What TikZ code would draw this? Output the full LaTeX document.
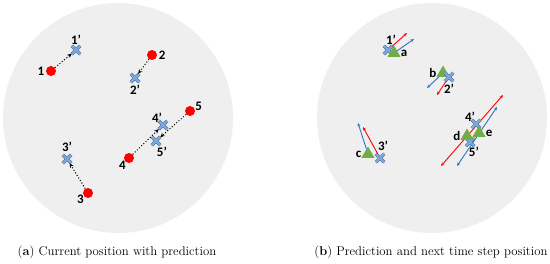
\documentclass[tikz,border=0pt]{standalone}
\usepackage{fontspec}
\setsansfont{Carlito}
\usetikzlibrary{positioning, arrows.meta, shapes.geometric, shapes.misc}
\definecolor{discgray}{HTML}{EFEFEF}
\definecolor{dotred}{HTML}{FF0000}
\definecolor{xfill}{HTML}{7FA6D6}
\definecolor{xedge}{HTML}{41719C}
\definecolor{trigreen}{HTML}{70AD47}
\definecolor{arrred}{HTML}{FF0000}
\definecolor{arrblue}{HTML}{2E75B6}

\begin{document}
\begin{tikzpicture}[
  x=1bp, y=-1bp,
  disc/.style={fill=discgray, draw=none},
  cur/.style={circle, fill=dotred, inner sep=0pt, minimum size=10bp},
  pred/.style={cross out, draw=xedge, double=xfill, double distance=2.2bp,
               line width=0.5bp, inner sep=0pt, minimum size=8bp},
  next/.style={regular polygon, regular polygon sides=3, fill=trigreen,
               inner sep=0pt, minimum size=15bp},
  lab/.style={font=\sffamily\bfseries\fontsize{13}{13}\selectfont, inner sep=0.5bp},
  captxt/.style={font=\fontsize{12.8}{14}\selectfont, inner sep=0pt},
  move/.style={dotted, line width=1bp, -{Stealth[length=4.5bp, width=4bp]}},
  redarr/.style={arrred, line width=0.9bp, -{Stealth[length=3.5bp, width=3bp]}},
  bluarr/.style={arrblue, line width=0.9bp, -{Stealth[length=3.5bp, width=3bp]}},
  both/.style={{Stealth[length=3.5bp, width=3bp]}-{Stealth[length=3.5bp, width=3bp]}}
]
\useasboundingbox (0,0) rectangle (550,263);

% (a) current position with prediction
\fill[disc] (118,118) circle[radius=115];
\node[cur]  (p1) at (51,71)   {};
\node[pred] (q1) at (76,50)   {};
\node[cur]  (p2) at (152,55)  {};
\node[pred] (q2) at (135,78)  {};
\node[cur]  (p3) at (88,193)  {};
\node[pred] (q3) at (67,159)  {};
\node[cur]  (p4) at (129,158) {};
\node[pred] (q4) at (163,125) {};
\node[cur]  (p5) at (190,111) {};
\node[pred] (q5) at (156,141) {};
\node[lab, left=1bp of p1]                    {1};
\node[lab, above=1bp of q1]                   {1’};
\node[lab, right=1bp of p2]                   {2};
\node[lab, below=2bp of q2]                   {2’};
\node[lab, below left=-2bp and 0bp of p3]     {3};
\node[lab, above=2bp of q3]                   {3’};
\node[lab, below left=-1bp and -1bp of p4]    {4};
\node[lab, above left=-2bp and -4bp of q4]    {4’};
\node[lab, above right=-4bp and 1bp of p5]    {5};
\node[lab, below right=1bp and -4bp of q5]    {5’};
\draw[move] (p1) -- (q1);
\draw[move] (p2) -- (q2);
\draw[move] (p3) -- (q3);
\draw[move] (p4) -- (q4);
\draw[move] (p5) -- (q5);
\node[captxt] (capa) at (117,252) {(\textbf{a}) Current position with prediction};

% (b) prediction and next time step position
\fill[disc] (432,118) circle[radius=115];
\coordinate (e1r) at (407,33);
\coordinate (e1b) at (414,39);
\coordinate (e2r) at (437,95);
\coordinate (e2b) at (427,88);
\coordinate (e3r) at (363,127);
\coordinate (e3b) at (358,123);
\coordinate (e4r) at (503,95);
\coordinate (s4r) at (441,166);
\coordinate (e4b) at (497,107);
\coordinate (s4b) at (457,166);
\draw[redarr, both] (s4r) -- (e4r);
\draw[bluarr, both] (s4b) -- (e4b);
\node[pred] (r1) at (388,50)  {};
\node[next] (ta) at (394,53)  {};
\node[next] (tb) at (443,73)  {};
\node[pred] (r2) at (449,77)  {};
\node[next] (tc) at (368,154) {};
\node[pred] (r3) at (380,158) {};
\node[pred] (r4) at (476,124) {};
\node[pred] (r5) at (470,142) {};
\node[next] (td) at (467,136) {};
\node[next] (te) at (479,133) {};
\node[lab, above=1bp of r1, xshift=3bp]        {1’};
\node[lab, right=1.5bp of ta]                  {a};
\node[lab, left=1.5bp of tb]                   {b};
\node[lab, below=2bp of r2]                    {2’};
\node[lab, left=1.5bp of tc]                   {c};
\node[lab, above=2bp of r3, xshift=3bp]        {3’};
\node[lab, above left=-2bp and -4bp of r4]     {4’};
\node[lab, left=1.5bp of td]                   {d};
\node[lab, right=1.5bp of te]                  {e};
\node[lab, below right=0bp and -6bp of r5]     {5’};
\draw[redarr] (r1) -- (e1r);
\draw[bluarr] (ta) -- (e1b);
\draw[redarr] (r2) -- (e2r);
\draw[bluarr] (tb) -- (e2b);
\draw[redarr] (r3) -- (e3r);
\draw[bluarr] (tc) -- (e3b);
\node[captxt] (capb) at (431,252) {(\textbf{b}) Prediction and next time step position};
\end{tikzpicture}
\end{document}
